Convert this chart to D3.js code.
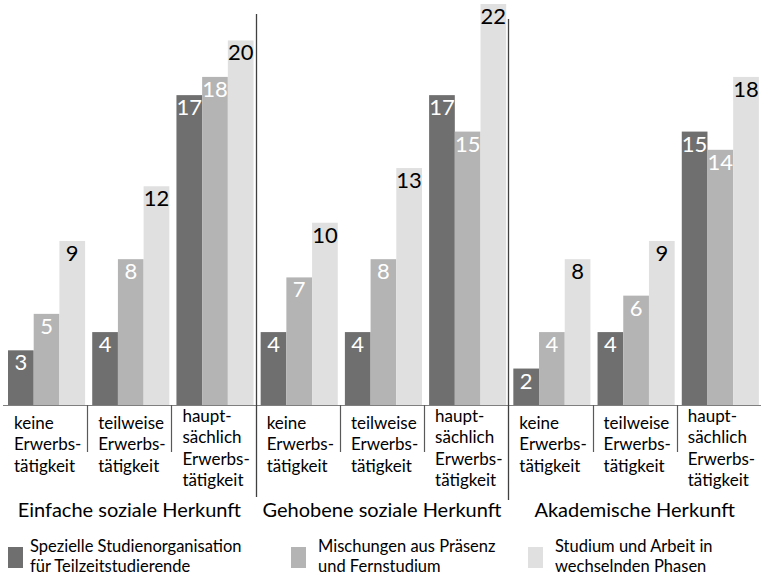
<!DOCTYPE html>
<html>
<head>
<meta charset="utf-8">
<script src="https://cdn.jsdelivr.net/npm/d3@7"></script>
<style>
  html, body { margin: 0; padding: 0; background: #fff; }
  svg { display: block; font-family: Lato, "Open Sans", sans-serif; }
</style>
</head>
<body>
<svg id="chart" width="764" height="575"></svg>
<script>
// Social background groups (outer category level)
const groups = ["Einfache soziale Herkunft", "Gehobene soziale Herkunft", "Akademische Herkunft"];
// Employment level (inner category level), split into drawn lines
const employment = [
  ["keine", "Erwerbs-", "tätigkeit"],
  ["teilweise", "Erwerbs-", "tätigkeit"],
  ["haupt-", "sächlich", "Erwerbs-", "tätigkeit"]
];
// Series names (legend, two lines each)
const seriesNames = [
  ["Spezielle Studienorganisation", "für Teilzeitstudierende"],
  ["Mischungen aus Präsenz", "und Fernstudium"],
  ["Studium und Arbeit in", "wechselnden Phasen"]
];
// Values per series, ordered group by group, employment level within group
const speziell   = [3, 4, 17,  4, 4, 17,  2, 4, 15];
const mischungen = [5, 8, 18,  7, 8, 15,  4, 6, 14];
const wechselnd  = [9, 12, 20, 10, 13, 22, 8, 9, 18];

const seriesValues = [speziell, mischungen, wechselnd];
const colors = ["#6f6f6f", "#b4b4b4", "#e0e0e0"];
const labelColors = ["#ffffff", "#ffffff", "#000000"];

const svg = d3.select("#chart");

const cats = d3.range(groups.length * employment.length);
const x = d3.scaleBand().domain(cats).range([3, 761]).padding(0);
const xs = d3.scaleBand().domain(d3.range(seriesValues.length))
  .range([5, 5 + 77.1]).padding(0);
const y = d3.scaleLinear().domain([0, 22]).range([405, 4]);

// Bars
const barGroups = svg.append("g").selectAll("g")
  .data(seriesValues)
  .join("g")
  .attr("fill", (d, i) => colors[i]);

barGroups.selectAll("rect")
  .data((vals, s) => vals.map((v, c) => ({ v, c, s })))
  .join("rect")
  .attr("x", d => x(d.c) + xs(d.s))
  .attr("y", d => y(d.v))
  .attr("width", xs.bandwidth())
  .attr("height", d => y(0) - y(d.v));

// Value labels inside bar tops
barGroups.selectAll("text")
  .data((vals, s) => vals.map((v, c) => ({ v, c, s })))
  .join("text")
  .attr("x", d => x(d.c) + xs(d.s) + xs.bandwidth() / 2)
  .attr("y", d => y(d.v) + 20)
  .attr("text-anchor", "middle")
  .attr("font-size", 22)
  .attr("fill", d => labelColors[d.s])
  .text(d => d.v);

// Category axis line
svg.append("line")
  .attr("x1", x.range()[0]).attr("x2", x.range()[1])
  .attr("y1", y(0) + 0.5).attr("y2", y(0) + 0.5)
  .attr("stroke", "#7f7f7f").attr("stroke-width", 1);

// Ticks between employment levels
const boundaries = d3.range(1, cats.length);
svg.append("g").selectAll("line")
  .data(boundaries.filter(b => b % employment.length !== 0))
  .join("line")
  .attr("x1", b => Math.round(x(b)) + 0.5).attr("x2", b => Math.round(x(b)) + 0.5)
  .attr("y1", y(0)).attr("y2", 452)
  .attr("stroke", "#595959").attr("stroke-width", 1.2);

// Separators between social background groups
const sepTop = [14, 19];
const sepBottom = [497, 500];
svg.append("g").selectAll("line")
  .data(boundaries.filter(b => b % employment.length === 0))
  .join("line")
  .attr("x1", b => Math.round(x(b)) + 0.5).attr("x2", b => Math.round(x(b)) + 0.5)
  .attr("y1", (b, i) => sepTop[i]).attr("y2", (b, i) => sepBottom[i])
  .attr("stroke", "#404040").attr("stroke-width", 1.3);

// Employment level labels
const lineH = 21.3;
const catLabels = svg.append("g").attr("font-size", 17).attr("fill", "#000");
cats.forEach(c => {
  const lines = employment[c % employment.length];
  const first = lines.length > 3 ? 422 : 429;
  const t = catLabels.append("text")
    .attr("x", x(c) + 11);
  lines.forEach((ln, i) => {
    t.append("tspan").attr("x", x(c) + 11).attr("y", first + i * lineH).text(ln);
  });
});

// Group titles
svg.append("g").attr("font-size", 20).attr("fill", "#000")
  .selectAll("text")
  .data(groups)
  .join("text")
  .attr("x", (g, i) => (x(i * 3) + x(i * 3 + 2) + x.bandwidth()) / 2)
  .attr("y", 517)
  .attr("text-anchor", "middle")
  .text(g => g);

// Legend
const legendSwatchX = [8, 291, 528];
const legendTextX = [30, 318, 555];
const legend = svg.append("g").selectAll("g")
  .data(seriesNames)
  .join("g");
legend.append("rect")
  .attr("x", (d, i) => legendSwatchX[i]).attr("y", 547).attr("width", 15).attr("height", 21)
  .attr("fill", (d, i) => colors[i]);
legend.append("text")
  .attr("font-size", 16.5)
  .attr("fill", "#000")
  .each(function (d, i) {
    d3.select(this).selectAll("tspan")
      .data(d)
      .join("tspan")
      .attr("x", legendTextX[i])
      .attr("y", (t, j) => 552 + j * 19.5)
      .text(t => t);
  });
</script>
</body>
</html>
